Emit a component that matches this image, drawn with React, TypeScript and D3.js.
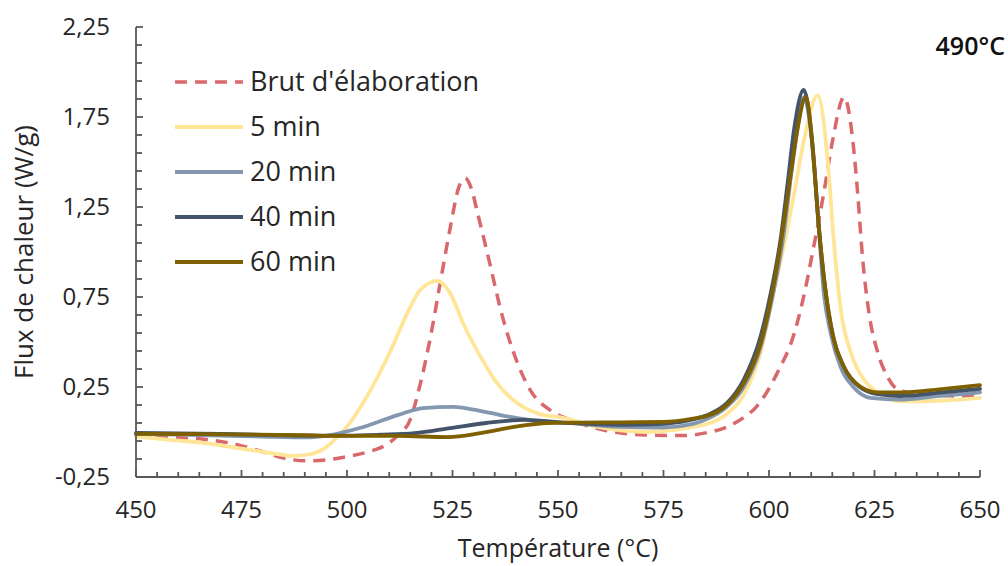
import React from "react";
import * as d3 from "d3";

const xTicks = [450, 475, 500, 525, 550, 575, 600, 625, 650];
const yTicks = [-0.25, 0.25, 0.75, 1.25, 1.75, 2.25];
const yTickLabels = ["-0,25", "0,25", "0,75", "1,25", "1,75", "2,25"];

const seriesNames = ["Brut d'élaboration", "5 min", "20 min", "40 min", "60 min"];
const seriesColors = ["#d9686c", "#ffe597", "#8497b0", "#44546a", "#7f6000"];

const brut: [number, number][] = [
  [450, -0.02], [458, -0.03], [466, -0.04], [474, -0.07], [480, -0.11], [485, -0.145],
  [490, -0.16], [495, -0.155], [500, -0.137], [505, -0.11], [509, -0.075], [512, -0.02],
  [515, 0.07], [517.4, 0.27], [519.8, 0.53], [522.1, 0.83], [524.5, 1.14], [526.5, 1.36],
  [528, 1.41], [529.5, 1.35], [530.9, 1.22], [534, 0.92], [536.4, 0.68], [539.2, 0.46],
  [543.5, 0.23], [548.2, 0.12], [553, 0.067], [560.8, 0.011], [571, -0.017], [579, -0.02],
  [585, -0.005], [590, 0.028], [594, 0.08], [597, 0.14], [602, 0.33], [606, 0.55],
  [608, 0.73], [610.6, 1.03], [613, 1.33], [615, 1.61], [617.8, 1.86], [619.9, 1.61],
  [621, 1.33], [622.2, 0.96], [623.7, 0.66], [625.8, 0.44], [628, 0.31], [631, 0.23],
  [637.6, 0.21], [644, 0.2], [650, 0.2],
];

const min5: [number, number][] = [
  [450, -0.025], [458, -0.044], [466, -0.06], [474, -0.089], [482, -0.117], [487, -0.133],
  [491, -0.125], [494, -0.1], [497, -0.045], [500, 0.03], [505.5, 0.23], [510.3, 0.45],
  [514.3, 0.66], [517.4, 0.79], [521.4, 0.84], [524.5, 0.77], [527.6, 0.6], [531.6, 0.42],
  [535.6, 0.27], [540.4, 0.16], [545, 0.105], [551.3, 0.078], [559.4, 0.028], [571, 0.0],
  [582, 0.028], [586, 0.05], [590, 0.1], [595, 0.25], [598, 0.44], [601, 0.77],
  [603.5, 1.03], [606, 1.33], [608.2, 1.61], [611.5, 1.87], [613.9, 1.51], [615.4, 1.05],
  [617, 0.68], [619.4, 0.44], [622.5, 0.29], [625.8, 0.22], [631, 0.17], [641.5, 0.175],
  [650, 0.19],
];

const min20: [number, number][] = [
  [450, -0.01], [460, -0.015], [470, -0.02], [480, -0.025], [490, -0.03], [496, -0.017],
  [503, 0.022], [512, 0.094], [518, 0.133], [525, 0.14], [533, 0.11], [540, 0.078],
  [547.5, 0.056], [553, 0.05], [563, 0.03], [575, 0.025], [582, 0.045], [586, 0.08],
  [590, 0.14], [594, 0.25], [598, 0.47], [601, 0.77], [603.5, 1.1], [605.2, 1.42],
  [606.8, 1.69], [608.3, 1.86], [610, 1.65], [611.5, 1.23], [613, 0.77], [614.6, 0.55],
  [617, 0.36], [620, 0.25], [624, 0.19], [631, 0.18], [640, 0.2], [650, 0.22],
];

const min40: [number, number][] = [
  [450, -0.005], [470, -0.01], [490, -0.02], [500, -0.02], [508, -0.015], [516, -0.006],
  [524.5, 0.022], [533, 0.05], [542, 0.067], [553, 0.05], [565, 0.04], [575, 0.045],
  [582, 0.07], [586, 0.1], [590, 0.16], [594, 0.29], [598, 0.53], [600.4, 0.77],
  [602.8, 1.08], [604.4, 1.38], [606, 1.69], [608.2, 1.9], [610.3, 1.6], [611.6, 1.2],
  [613.3, 0.8], [615.2, 0.53], [617.6, 0.37], [621.5, 0.25], [625.8, 0.21], [631, 0.2],
  [641, 0.22], [650, 0.24],
];

const min60: [number, number][] = [
  [450, -0.01], [470, -0.013], [490, -0.018], [498, -0.022], [512, -0.022], [524, -0.028],
  [531.6, -0.006], [539.5, 0.028], [547.5, 0.05], [555, 0.052], [565, 0.054], [575, 0.056],
  [582, 0.075], [586, 0.094], [590, 0.15], [594, 0.27], [598, 0.49], [600.4, 0.73],
  [602.8, 1.05], [605.2, 1.44], [606.8, 1.69], [608.7, 1.86], [610.6, 1.51], [611.8, 1.14],
  [613.5, 0.77], [615.4, 0.51], [617.8, 0.36], [621.8, 0.25], [625.8, 0.22], [631, 0.22],
  [641.5, 0.24], [650, 0.26],
];

const allSeries = [brut, min5, min20, min40, min60];

const W = 1008;
const H = 566;
const left = 136;
const right = 980;
const top = 27;
const bottom = 477;
const FONT = "'Open Sans', Lato, sans-serif";
const AXIS = "#595959";
const TEXT = "#262626";

export default function App() {
  const x = d3.scaleLinear().domain([450, 650]).range([left, right]);
  const y = d3.scaleLinear().domain([-0.25, 2.25]).range([bottom, top]);
  const line = d3
    .line<[number, number]>()
    .x((d) => x(d[0]))
    .y((d) => y(d[1]))
    .curve(d3.curveMonotoneX);

  const xMinor = d3.range(450, 650.01, 5);
  const yMinor = d3.range(0, 26).map((i) => -0.25 + i * 0.1);

  return (
    <svg
      width={W}
      height={H}
      style={{ position: "absolute", left: 0, top: 0, background: "#fff" }}
      fontFamily={FONT}
    >
      <rect x={0} y={0} width={W} height={H} fill="#fff" />
      {/* series */}
      {allSeries.map((s, i) => (
        <path
          key={i}
          d={line(s) || ""}
          fill="none"
          stroke={seriesColors[i]}
          strokeWidth={i === 0 ? 3.5 : 3.8}
          strokeDasharray={i === 0 ? "12 8" : undefined}
          strokeLinejoin="round"
          strokeLinecap={i === 0 ? "butt" : "round"}
        />
      ))}
      {/* axes */}
      <g stroke={AXIS} strokeWidth={1.8}>
        <line x1={left} x2={left} y1={top} y2={bottom} />
        <line x1={left} x2={right} y1={bottom} y2={bottom} />
        {xMinor.map((t) => (
          <line key={"xm" + t} x1={x(t)} x2={x(t)} y1={bottom} y2={bottom - ((t - 450) % 25 === 0 ? 7 : 5)} />
        ))}
        {yMinor.map((v, i) => (
          <line key={"ym" + i} x1={left} x2={left + (i % 5 === 0 ? 7 : 6)} y1={y(v)} y2={y(v)} />
        ))}
      </g>
      {/* tick labels */}
      <g fontSize={24} fill={TEXT}>
        {xTicks.map((t) => (
          <text key={"xt" + t} x={x(t)} y={bottom + 41} textAnchor="middle">
            {t}
          </text>
        ))}
        {yTicks.map((v, i) => (
          <text key={"yt" + i} x={left - 26} y={y(v) + 8} textAnchor="end">
            {yTickLabels[i]}
          </text>
        ))}
      </g>
      {/* axis titles */}
      <text x={(left + right) / 2} y={557} textAnchor="middle" fontSize={25} fill={TEXT}>
        Température (°C)
      </text>
      <text
        transform={`translate(33, ${(top + bottom) / 2}) rotate(-90)`}
        textAnchor="middle"
        fontSize={26}
        fill={TEXT}
      >
        Flux de chaleur (W/g)
      </text>
      {/* annotation */}
      <text x={1005} y={55} textAnchor="end" fontSize={25} fontWeight={600} fill="#111">
        490°C
      </text>
      {/* legend */}
      {seriesNames.map((n, i) => {
        const ly = 82 + i * 45;
        return (
          <g key={"lg" + i}>
            <line
              x1={175}
              x2={243}
              y1={ly}
              y2={ly}
              stroke={seriesColors[i]}
              strokeWidth={i === 0 ? 3.5 : 3.8}
              strokeDasharray={i === 0 ? "12 8" : undefined}
            />
            <text x={250} y={ly + 9} fontSize={27} fill={TEXT}>
              {n}
            </text>
          </g>
        );
      })}
    </svg>
  );
}
